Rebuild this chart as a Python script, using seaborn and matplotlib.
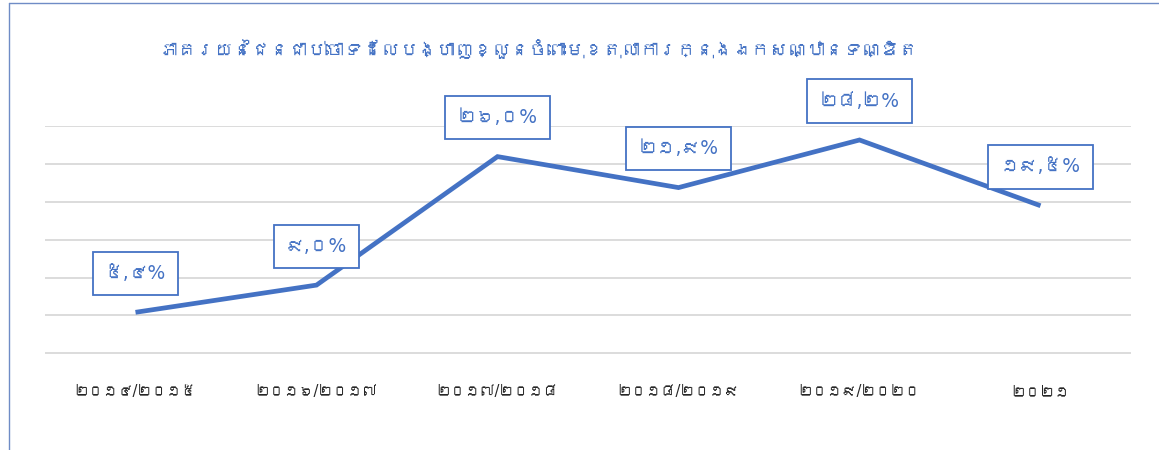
import numpy as np
import pandas as pd
import matplotlib
matplotlib.use("Agg")
import matplotlib.pyplot as plt
from matplotlib.lines import Line2D
from matplotlib import font_manager
from matplotlib.ft2font import FT2Font
import seaborn as sns

# ---- data ----
title = "ភាគរយនៃជនជាប់ចោទដែលបង្ហាញខ្លួនចំពោះមុខតុលាការក្នុងឯកសណ្ឋានទណ្ឌិត"
categories = ["២០១៤/២០១៥", "២០១៦/២០១៧", "២០១៧/២០១៨", "២០១៨/២០១៩", "២០១៩/២០២០", "២០២១"]
values = [5.4, 9.0, 26.0, 21.9, 28.2, 19.5]
value_labels = ["៥,៤%", "៩,០%", "២៦,០%", "២១,៩%", "២៨,២%", "១៩,៥%"]
grid_values = [0, 5, 10, 15, 20, 25, 30]

BLUE = "#4472C4"


def find_font(cp):
    seen = set()
    for f in font_manager.fontManager.ttflist:
        if f.fname in seen:
            continue
        seen.add(f.fname)
        try:
            ft = FT2Font(f.fname)
            if cp in ft.get_charmap():
                return f.name
        except Exception:
            pass
    return None


sns.set_theme(style="white")
khmer = find_font(0x1780)
families = ["DejaVu Sans"] + ([khmer] if khmer else [])
plt.rcParams["font.family"] = families

df = pd.DataFrame({"pos": np.arange(len(categories)), "value": values})

fig = plt.figure(figsize=(11.59, 4.5), dpi=100)
ax = fig.add_axes([45 / 1159, 1 - 353.5 / 450, 1086 / 1159, 227.5 / 450])

sns.lineplot(data=df, x="pos", y="value", ax=ax, color=BLUE, linewidth=3.4,
             solid_capstyle="butt", solid_joinstyle="miter")

ax.set_xlim(-0.5, len(categories) - 0.5)
ax.set_ylim(-0.05, 30.05)
ax.set_yticks(grid_values)
ax.set_yticklabels([])
ax.set_xticks(df["pos"])
ax.set_xticklabels(categories)
ax.tick_params(axis="x", length=0, pad=22, labelsize=10.5, labelcolor="#262626")
ax.tick_params(axis="y", length=0)
ax.grid(axis="y", color="#D9D9D9", linewidth=1.3)
ax.grid(axis="x", visible=False)
ax.set_axisbelow(True)
for s in ax.spines.values():
    s.set_visible(False)
ax.set_xlabel("")
ax.set_ylabel("")

for x, y, lab in zip(df["pos"], values, value_labels):
    ax.annotate(lab, (x, y), xytext=(0, 28), textcoords="offset points",
                ha="center", va="center", fontsize=13.5, color=BLUE,
                bbox=dict(boxstyle="square,pad=0.65", fc="white", ec=BLUE, lw=1.3),
                zorder=5)

t = fig.text(160 / 1159, 1 - 50 / 450, title, ha="left", va="center",
             fontsize=20, color=BLUE, fontweight="bold")
# fit the title to the reference's width
renderer = fig.canvas.get_renderer()
w = t.get_window_extent(renderer=renderer).width
target = 760.0
if w > 0:
    t.set_fontsize(20 * target / w)

# outer frame (left and top edges)
fig.add_artist(Line2D([8.5 / 1159, 8.5 / 1159], [0, 1 - 2.5 / 450],
                      transform=fig.transFigure, color="#6F8CC6", lw=1.0))
fig.add_artist(Line2D([8.5 / 1159, 1], [1 - 2.5 / 450, 1 - 2.5 / 450],
                      transform=fig.transFigure, color="#6F8CC6", lw=1.0))

fig.savefig("out.png", dpi=100, facecolor="white")
